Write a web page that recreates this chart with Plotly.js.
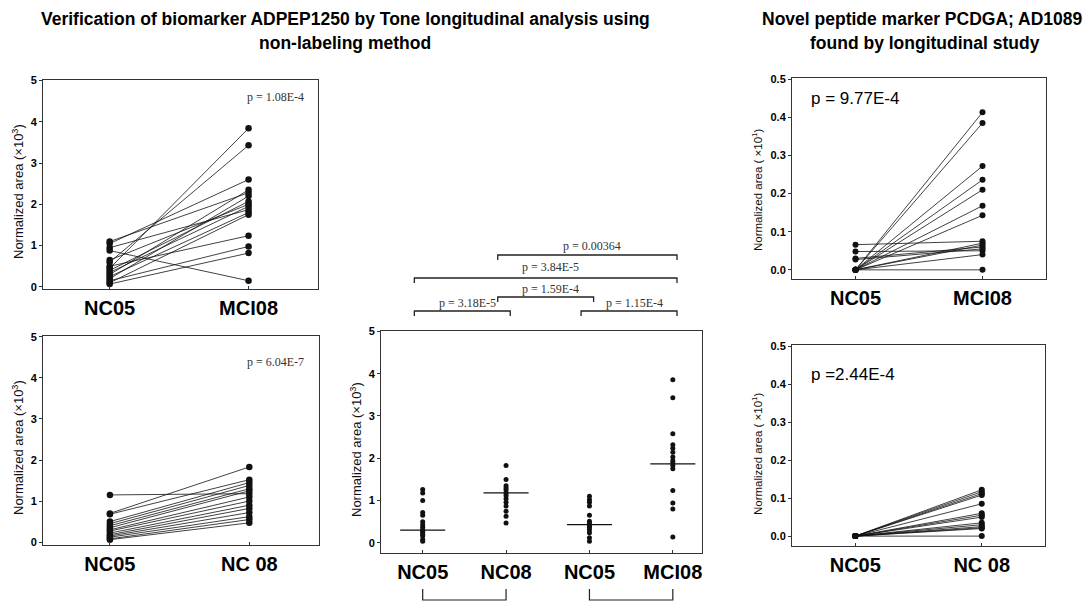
<!DOCTYPE html>
<html><head><meta charset="utf-8">
<script src="https://cdn.plot.ly/plotly-3.0.1.min.js"></script>
<style>html,body{margin:0;padding:0;background:#fff}#chart{width:1091px;height:603px}</style>
</head><body><div id="chart"></div>
<script>
// ---------- DATA ----------
const categoriesA = ["NC05", "MCI08"];
const nc05_A  = [0.45, 0.60, 1.05, 0.30, 1.10, 0.20, 0.40, 0.65, 0.35, 0.95, 0.25, 0.10, 0.50, 0.15, 0.07, 0.88];
const mci08_A = [3.84, 3.43, 2.60, 2.35, 2.28, 2.20, 2.07, 2.00, 1.95, 1.87, 1.80, 1.75, 1.24, 0.98, 0.82, 0.15];

const categoriesB = ["NC05", "NC 08"];
const nc05_B = [1.15, 0.70, 0.68, 0.50, 0.45, 0.40, 0.35, 0.30, 0.27, 0.22, 0.18, 0.15, 0.12, 0.08, 0.06];
const nc08_B = [1.18, 1.83, 1.52, 1.45, 1.38, 1.30, 1.25, 1.10, 1.00, 0.90, 0.82, 0.72, 0.62, 0.55, 0.47];

const categoriesC = ["NC05", "NC08", "NC05", "MCI08"];
const groupNC05a = [1.26, 1.18, 1.00, 0.72, 0.65, 0.50, 0.43, 0.37, 0.31, 0.27, 0.24, 0.20, 0.16, 0.08, 0.04];
const groupNC08  = [1.83, 1.50, 1.35, 1.30, 1.25, 1.18, 1.12, 1.04, 0.96, 0.87, 0.75, 0.63, 0.47];
const groupNC05b = [1.10, 1.02, 0.96, 0.87, 0.65, 0.51, 0.46, 0.41, 0.37, 0.31, 0.24, 0.12, 0.04];
const groupMCI08 = [3.86, 3.43, 2.58, 2.32, 2.24, 2.14, 2.03, 1.94, 1.89, 1.83, 1.75, 1.24, 0.94, 0.80, 0.14];
const groupMedians = [0.30, 1.18, 0.43, 1.87];
const bracketPairs  = [[0, 1], [1, 2], [2, 3], [0, 3], [1, 3]];
const bracketLabels = ["p = 3.18E-5", "p = 1.59E-4", "p = 1.15E-4", "p = 3.84E-5", "p = 0.00364"];
const bottomPairs   = [[0, 1], [2, 3]];

const categoriesD = ["NC05", "MCI08"];
const nc05_D  = [0, 0, 0, 0, 0, 0, 0, 0.066, 0.048, 0.030, 0.027, 0, 0, 0, 0];
const mci08_D = [0.413, 0.385, 0.272, 0.236, 0.210, 0.168, 0.143, 0.075, 0.050, 0.060, 0.055, 0.070, 0.065, 0.040, 0.000];

const categoriesE = ["NC05", "NC 08"];
const nc05_E = [0, 0, 0, 0, 0, 0, 0, 0, 0, 0, 0, 0, 0, 0];
const nc08_E = [0.122, 0.117, 0.112, 0.108, 0.085, 0.060, 0.055, 0.050, 0.035, 0.030, 0.025, 0.022, 0.020, 0.000];

const pValuesLeft  = ["p = 1.08E-4", "p = 6.04E-7"];
const pValuesRight = ["p = 9.77E-4", "p =2.44E-4"];
const titleLeft  = ["Verification of biomarker ADPEP1250 by Tone longitudinal analysis using", "non-labeling method"];
const titleRight = ["Novel peptide marker PCDGA; AD1089", "found by longitudinal study"];
const yTitleLeft  = "Normalized area (×10<sup>3</sup>)";
const yTitleRight = "Normalized area ( ×10<sup>1</sup>)";

// ---------- HELPERS ----------
const W = 1091, H = 603;
const fx = p => p / W;
const fy = p => 1 - p / H;
const SANS = "Arial, 'Liberation Sans', sans-serif";
const SERIF = "'Times New Roman', 'Liberation Serif', serif";
const INK = "#111";

function pairedTrace(a, b, xa, ya, size) {
  const xs = [], ys = [];
  for (let i = 0; i < a.length; i++) { xs.push(0, 1, null); ys.push(a[i], b[i], null); }
  return {type: "scatter", mode: "lines+markers", x: xs, y: ys, xaxis: xa, yaxis: ya,
    connectgaps: false, cliponaxis: false, hoverinfo: "skip", showlegend: false,
    line: {color: INK, width: 0.8}, marker: {color: INK, size: size}};
}

const traces = [
  pairedTrace(nc05_A, mci08_A, "x", "y", 6.5),
  pairedTrace(nc05_B, nc08_B, "x2", "y2", 6.5),
  pairedTrace(nc05_D, mci08_D, "x4", "y4", 6),
  pairedTrace(nc05_E, nc08_E, "x5", "y5", 6)
];

// middle dot plot
const groups = [groupNC05a, groupNC08, groupNC05b, groupMCI08];
const gx = [], gy = [];
groups.forEach((g, i) => g.forEach(v => { gx.push(i); gy.push(v); }));
traces.push({type: "scatter", mode: "markers", x: gx, y: gy, xaxis: "x3", yaxis: "y3",
  cliponaxis: false, hoverinfo: "skip", showlegend: false, marker: {color: INK, size: 5}});
const mx = [], my = [], half = 0.27;
groupMedians.forEach((m, i) => { mx.push(i - half, i + half, null); my.push(m, m, null); });
traces.push({type: "scatter", mode: "lines", x: mx, y: my, xaxis: "x3", yaxis: "y3",
  hoverinfo: "skip", showlegend: false, line: {color: INK, width: 1.2}});

// ---------- AXES ----------
function xAxis(px0, px1, range, cats, anchor) {
  return {domain: [fx(px0), fx(px1)], anchor: anchor, range: range, tickvals: cats.map((c, i) => i),
    ticktext: cats, ticks: "inside", ticklen: 3, tickcolor: "#333", showgrid: false, zeroline: false,
    showline: true, mirror: true, linecolor: "#333", linewidth: 1, fixedrange: true,
    ticklabelstandoff: 1,
    tickfont: {family: SANS, size: 20, color: "#000", weight: "bold"}};
}
function yAxis(py0, py1, range, dtick, fmt, anchor) {
  return {domain: [fy(py1), fy(py0)], anchor: anchor, range: range, dtick: dtick, tick0: 0,
    tickformat: fmt, ticks: "outside", ticklen: 3, tickcolor: "#333", showgrid: false, zeroline: false,
    showline: true, mirror: true, linecolor: "#333", linewidth: 1, fixedrange: true,
    tickfont: {family: SANS, size: 11, color: "#000", weight: "bold"}};
}

const layout = {
  width: W, height: H, margin: {l: 0, r: 0, t: 0, b: 0},
  paper_bgcolor: "#fff", plot_bgcolor: "#fff", showlegend: false,
  xaxis:  xAxis(43, 318, [-0.48, 1.5], categoriesA, "y"),
  yaxis:  yAxis(80, 289, [-0.05, 5.01], 1, "d", "x"),
  xaxis2: xAxis(43, 319, [-0.48, 1.5], categoriesB, "y2"),
  yaxis2: yAxis(336, 545, [-0.07, 5.02], 1, "d", "x2"),
  xaxis3: xAxis(381, 702, [-0.5, 3.35], categoriesC, "y3"),
  yaxis3: yAxis(331, 553, [-0.24, 5.01], 1, "d", "x3"),
  xaxis4: xAxis(792, 1046, [-0.5, 1.5], categoriesD, "y4"),
  yaxis4: yAxis(78, 279, [-0.024, 0.503], 0.1, ".1f", "x4"),
  xaxis5: xAxis(792, 1045, [-0.5, 1.5], categoriesE, "y5"),
  yaxis5: yAxis(345, 546, [-0.026, 0.503], 0.1, ".1f", "x5"),
  shapes: [], annotations: []
};

const ann = layout.annotations;
function paperText(text, x, y, font, extra) {
  ann.push(Object.assign({text: text, x: fx(x), y: fy(y), xref: "paper", yref: "paper",
    xanchor: "center", yanchor: "middle", showarrow: false, font: font}, extra || {}));
}
const titleFont = {family: SANS, size: 17.5, color: "#000", weight: "bold"};
// titles
paperText(titleLeft[0], 345, 19, titleFont);
paperText(titleLeft[1], 345, 43, titleFont);
paperText(titleRight[0], 922, 19, titleFont);
paperText(titleRight[1], 925, 43, titleFont);

// y-axis titles
[[18, 192], [18, 448], [356, 450]].forEach(([x, y]) =>
  paperText(yTitleLeft, x, y, {family: SANS, size: 13, color: "#111"}, {textangle: -90}));
[[757, 190], [757, 454]].forEach(([x, y]) =>
  paperText(yTitleRight, x, y, {family: SANS, size: 11.5, color: "#111"}, {textangle: -90}));

// p-values
[[306, 97], [306, 362]].forEach(([x, y], i) =>
  paperText(pValuesLeft[i], x, y, {family: SERIF, size: 12, color: "#333"}, {xanchor: "right"}));
[[809, 98], [809, 375]].forEach(([x, y], i) =>
  paperText(pValuesRight[i], x, y, {family: SANS, size: 17, color: "#000"}, {xanchor: "left"}));

// significance brackets (middle panel)
const bracketLineY = [311, 297, 311, 278, 255];
const bracketTextY = [303, 289, 303, 267, 246];
const drop = 5;
bracketPairs.forEach(([i, j], k) => {
  const x0 = i - 0.1, x1 = j + 0.05;
  const yl = fy(bracketLineY[k]), yd = fy(bracketLineY[k] + drop);
  layout.shapes.push({type: "path", xref: "x3", yref: "paper",
    path: `M ${x0},${yd} L ${x0},${yl} L ${x1},${yl} L ${x1},${yd}`,
    line: {color: "#222", width: 1.3}});
  ann.push({text: bracketLabels[k], x: (x0 + x1) / 2, y: fy(bracketTextY[k]), xref: "x3", yref: "paper",
    xanchor: "center", yanchor: "middle", xshift: 5, showarrow: false,
    font: {family: SERIF, size: 12, color: "#333"}});
});
bottomPairs.forEach(([i, j]) => {
  const yb = fy(600), yt = fy(589);
  layout.shapes.push({type: "path", xref: "x3", yref: "paper",
    path: `M ${i},${yt} L ${i},${yb} L ${j},${yb} L ${j},${yt}`,
    line: {color: "#222", width: 1.2}});
});

Plotly.newPlot("chart", traces, layout, {staticPlot: true, displayModeBar: false});
</script>
</body></html>
